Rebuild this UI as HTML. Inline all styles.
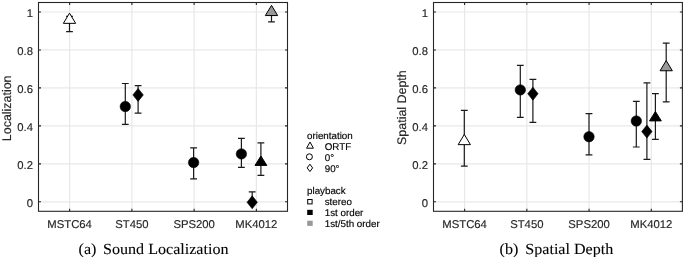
<!DOCTYPE html>
<html><head><meta charset="utf-8"><style>
html,body{margin:0;padding:0;background:#fff;width:685px;height:257px;overflow:hidden}
svg{display:block;will-change:transform}
</style></head><body>
<svg width="685" height="257" viewBox="0 0 685 257">
<style>text{text-rendering:geometricPrecision;font-family:"Liberation Sans",sans-serif;fill:#262626;stroke:#262626;stroke-width:0.15px}.tk{font-size:11.3px}.yl{font-size:12.45px}.lg{font-size:9.8px;fill:#000;stroke:#000}.cap{font-family:"Liberation Serif",serif;font-size:15.4px;fill:#000;stroke:#000;stroke-width:0.1px}</style>
<line x1="38.5" y1="201.81" x2="287.5" y2="201.81" stroke="#e8e8e8" stroke-width="1.2"/>
<line x1="38.5" y1="163.85" x2="287.5" y2="163.85" stroke="#e8e8e8" stroke-width="1.2"/>
<line x1="38.5" y1="125.88" x2="287.5" y2="125.88" stroke="#e8e8e8" stroke-width="1.2"/>
<line x1="38.5" y1="87.92" x2="287.5" y2="87.92" stroke="#e8e8e8" stroke-width="1.2"/>
<line x1="38.5" y1="49.95" x2="287.5" y2="49.95" stroke="#e8e8e8" stroke-width="1.2"/>
<line x1="38.5" y1="11.99" x2="287.5" y2="11.99" stroke="#e8e8e8" stroke-width="1.2"/>
<line x1="69.62" y1="2.5" x2="69.62" y2="211.3" stroke="#e8e8e8" stroke-width="1.2"/>
<line x1="131.88" y1="2.5" x2="131.88" y2="211.3" stroke="#e8e8e8" stroke-width="1.2"/>
<line x1="194.12" y1="2.5" x2="194.12" y2="211.3" stroke="#e8e8e8" stroke-width="1.2"/>
<line x1="256.38" y1="2.5" x2="256.38" y2="211.3" stroke="#e8e8e8" stroke-width="1.2"/>
<line x1="433.5" y1="201.81" x2="682.4" y2="201.81" stroke="#e8e8e8" stroke-width="1.2"/>
<line x1="433.5" y1="163.85" x2="682.4" y2="163.85" stroke="#e8e8e8" stroke-width="1.2"/>
<line x1="433.5" y1="125.88" x2="682.4" y2="125.88" stroke="#e8e8e8" stroke-width="1.2"/>
<line x1="433.5" y1="87.92" x2="682.4" y2="87.92" stroke="#e8e8e8" stroke-width="1.2"/>
<line x1="433.5" y1="49.95" x2="682.4" y2="49.95" stroke="#e8e8e8" stroke-width="1.2"/>
<line x1="433.5" y1="11.99" x2="682.4" y2="11.99" stroke="#e8e8e8" stroke-width="1.2"/>
<line x1="464.61" y1="2.5" x2="464.61" y2="211.3" stroke="#e8e8e8" stroke-width="1.2"/>
<line x1="526.84" y1="2.5" x2="526.84" y2="211.3" stroke="#e8e8e8" stroke-width="1.2"/>
<line x1="589.06" y1="2.5" x2="589.06" y2="211.3" stroke="#e8e8e8" stroke-width="1.2"/>
<line x1="651.29" y1="2.5" x2="651.29" y2="211.3" stroke="#e8e8e8" stroke-width="1.2"/>
<path d="M69.50 16.30V31.70M66.10 16.30H72.90M66.10 31.70H72.90" stroke="#1a1a1a" stroke-width="1.2" fill="none"/>
<path d="M69.50 13.15L75.65 23.35L63.35 23.35Z" fill="#ffffff" stroke="#000" stroke-width="1.0" stroke-linejoin="miter"/>
<path d="M125.30 83.50V124.30M121.90 83.50H128.70M121.90 124.30H128.70" stroke="#1a1a1a" stroke-width="1.2" fill="none"/>
<circle cx="125.30" cy="106.50" r="5.25" fill="#000000" stroke="#000" stroke-width="0.5"/>
<path d="M138.10 85.60V113.20M134.70 85.60H141.50M134.70 113.20H141.50" stroke="#1a1a1a" stroke-width="1.2" fill="none"/>
<path d="M138.10 88.40L143.30 94.90L138.10 101.40L132.90 94.90Z" fill="#000000" stroke="#000" stroke-width="0.6"/>
<path d="M193.60 147.90V178.90M190.20 147.90H197.00M190.20 178.90H197.00" stroke="#1a1a1a" stroke-width="1.2" fill="none"/>
<circle cx="193.60" cy="162.50" r="5.25" fill="#000000" stroke="#000" stroke-width="0.5"/>
<path d="M241.40 138.40V167.40M238.00 138.40H244.80M238.00 167.40H244.80" stroke="#1a1a1a" stroke-width="1.2" fill="none"/>
<circle cx="241.40" cy="153.90" r="5.25" fill="#000000" stroke="#000" stroke-width="0.5"/>
<path d="M252.20 191.80V202.30M248.80 191.80H255.60" stroke="#1a1a1a" stroke-width="1.2" fill="none"/>
<path d="M252.20 195.80L257.40 202.30L252.20 208.80L247.00 202.30Z" fill="#000000" stroke="#000" stroke-width="0.6"/>
<path d="M260.90 142.80V175.30M257.50 142.80H264.30M257.50 175.30H264.30" stroke="#1a1a1a" stroke-width="1.2" fill="none"/>
<path d="M260.90 156.00L266.80 165.40L255.00 165.40Z" fill="#000000" stroke="#000" stroke-width="1.0" stroke-linejoin="miter"/>
<path d="M271.50 10.00V21.80M268.10 21.80H274.90" stroke="#1a1a1a" stroke-width="1.2" fill="none"/>
<path d="M271.50 5.35L277.65 15.55L265.35 15.55Z" fill="#999999" stroke="#000" stroke-width="1.0" stroke-linejoin="miter"/>
<path d="M464.30 110.30V166.10M460.90 110.30H467.70M460.90 166.10H467.70" stroke="#1a1a1a" stroke-width="1.2" fill="none"/>
<path d="M464.30 134.45L470.45 144.65L458.15 144.65Z" fill="#ffffff" stroke="#000" stroke-width="1.0" stroke-linejoin="miter"/>
<path d="M520.30 65.30V117.40M516.90 65.30H523.70M516.90 117.40H523.70" stroke="#1a1a1a" stroke-width="1.2" fill="none"/>
<circle cx="520.30" cy="89.90" r="5.25" fill="#000000" stroke="#000" stroke-width="0.5"/>
<path d="M532.90 79.30V122.40M529.50 79.30H536.30M529.50 122.40H536.30" stroke="#1a1a1a" stroke-width="1.2" fill="none"/>
<path d="M532.90 87.20L538.10 93.70L532.90 100.20L527.70 93.70Z" fill="#000000" stroke="#000" stroke-width="0.6"/>
<path d="M589.00 113.60V154.90M585.60 113.60H592.40M585.60 154.90H592.40" stroke="#1a1a1a" stroke-width="1.2" fill="none"/>
<circle cx="589.00" cy="136.70" r="5.25" fill="#000000" stroke="#000" stroke-width="0.5"/>
<path d="M636.30 101.40V147.00M632.90 101.40H639.70M632.90 147.00H639.70" stroke="#1a1a1a" stroke-width="1.2" fill="none"/>
<circle cx="636.30" cy="121.00" r="5.25" fill="#000000" stroke="#000" stroke-width="0.5"/>
<path d="M646.90 82.90V159.30M643.50 82.90H650.30M643.50 159.30H650.30" stroke="#1a1a1a" stroke-width="1.2" fill="none"/>
<path d="M646.90 125.10L652.10 131.60L646.90 138.10L641.70 131.60Z" fill="#000000" stroke="#000" stroke-width="0.6"/>
<path d="M655.40 93.60V139.30M652.00 93.60H658.80M652.00 139.30H658.80" stroke="#1a1a1a" stroke-width="1.2" fill="none"/>
<path d="M655.40 111.50L661.30 120.90L649.50 120.90Z" fill="#000000" stroke="#000" stroke-width="1.0" stroke-linejoin="miter"/>
<path d="M666.20 43.20V101.80M662.80 43.20H669.60M662.80 101.80H669.60" stroke="#1a1a1a" stroke-width="1.2" fill="none"/>
<path d="M666.20 60.55L672.35 70.75L660.05 70.75Z" fill="#999999" stroke="#000" stroke-width="1.0" stroke-linejoin="miter"/>
<rect x="38.5" y="2.5" width="249.00" height="208.80" fill="none" stroke="#262626" stroke-width="1.1"/>
<path d="M38.5 201.81h2.5M287.5 201.81h-2.5" stroke="#262626" stroke-width="1.1"/>
<path d="M38.5 163.85h2.5M287.5 163.85h-2.5" stroke="#262626" stroke-width="1.1"/>
<path d="M38.5 125.88h2.5M287.5 125.88h-2.5" stroke="#262626" stroke-width="1.1"/>
<path d="M38.5 87.92h2.5M287.5 87.92h-2.5" stroke="#262626" stroke-width="1.1"/>
<path d="M38.5 49.95h2.5M287.5 49.95h-2.5" stroke="#262626" stroke-width="1.1"/>
<path d="M38.5 11.99h2.5M287.5 11.99h-2.5" stroke="#262626" stroke-width="1.1"/>
<path d="M69.62 2.5v2.5M69.62 211.3v-2.5" stroke="#262626" stroke-width="1.1"/>
<path d="M131.88 2.5v2.5M131.88 211.3v-2.5" stroke="#262626" stroke-width="1.1"/>
<path d="M194.12 2.5v2.5M194.12 211.3v-2.5" stroke="#262626" stroke-width="1.1"/>
<path d="M256.38 2.5v2.5M256.38 211.3v-2.5" stroke="#262626" stroke-width="1.1"/>
<text x="33.00" y="207.01" text-anchor="end" class="tk">0</text>
<text x="33.00" y="169.05" text-anchor="end" class="tk">0.2</text>
<text x="33.00" y="131.08" text-anchor="end" class="tk">0.4</text>
<text x="33.00" y="93.12" text-anchor="end" class="tk">0.6</text>
<text x="33.00" y="55.15" text-anchor="end" class="tk">0.8</text>
<text x="33.00" y="17.19" text-anchor="end" class="tk">1</text>
<text x="69.62" y="228" text-anchor="middle" class="tk">MSTC64</text>
<text x="131.88" y="228" text-anchor="middle" class="tk">ST450</text>
<text x="194.12" y="228" text-anchor="middle" class="tk">SPS200</text>
<text x="256.38" y="228" text-anchor="middle" class="tk">MK4012</text>
<rect x="433.5" y="2.5" width="248.90" height="208.80" fill="none" stroke="#262626" stroke-width="1.1"/>
<path d="M433.5 201.81h2.5M682.4 201.81h-2.5" stroke="#262626" stroke-width="1.1"/>
<path d="M433.5 163.85h2.5M682.4 163.85h-2.5" stroke="#262626" stroke-width="1.1"/>
<path d="M433.5 125.88h2.5M682.4 125.88h-2.5" stroke="#262626" stroke-width="1.1"/>
<path d="M433.5 87.92h2.5M682.4 87.92h-2.5" stroke="#262626" stroke-width="1.1"/>
<path d="M433.5 49.95h2.5M682.4 49.95h-2.5" stroke="#262626" stroke-width="1.1"/>
<path d="M433.5 11.99h2.5M682.4 11.99h-2.5" stroke="#262626" stroke-width="1.1"/>
<path d="M464.61 2.5v2.5M464.61 211.3v-2.5" stroke="#262626" stroke-width="1.1"/>
<path d="M526.84 2.5v2.5M526.84 211.3v-2.5" stroke="#262626" stroke-width="1.1"/>
<path d="M589.06 2.5v2.5M589.06 211.3v-2.5" stroke="#262626" stroke-width="1.1"/>
<path d="M651.29 2.5v2.5M651.29 211.3v-2.5" stroke="#262626" stroke-width="1.1"/>
<text x="428.00" y="207.01" text-anchor="end" class="tk">0</text>
<text x="428.00" y="169.05" text-anchor="end" class="tk">0.2</text>
<text x="428.00" y="131.08" text-anchor="end" class="tk">0.4</text>
<text x="428.00" y="93.12" text-anchor="end" class="tk">0.6</text>
<text x="428.00" y="55.15" text-anchor="end" class="tk">0.8</text>
<text x="428.00" y="17.19" text-anchor="end" class="tk">1</text>
<text x="464.61" y="228" text-anchor="middle" class="tk">MSTC64</text>
<text x="526.84" y="228" text-anchor="middle" class="tk">ST450</text>
<text x="589.06" y="228" text-anchor="middle" class="tk">SPS200</text>
<text x="651.29" y="228" text-anchor="middle" class="tk">MK4012</text>
<text transform="translate(10.6 108.3) rotate(-90)" text-anchor="middle" class="yl">Localization</text>
<text transform="translate(405.6 107.6) rotate(-90)" text-anchor="middle" class="yl">Spatial Depth</text>
<text x="307" y="139.0" class="lg">orientation</text>
<path d="M310 142L313.4 148.2L306.6 148.2Z" fill="#fff" stroke="#000" stroke-width="1"/>
<text x="324.7" y="150.1" class="lg">ORTF</text>
<circle cx="309.4" cy="156.8" r="3" fill="#fff" stroke="#000" stroke-width="1"/>
<text x="324.7" y="160.9" class="lg">0°</text>
<path d="M309.9 164.2L312.6 167.9L309.9 171.6L307.2 167.9Z" fill="#fff" stroke="#000" stroke-width="1"/>
<text x="324.7" y="171.7" class="lg">90°</text>
<text x="307" y="194.1" class="lg">playback</text>
<rect x="307.7" y="199.5" width="4.4" height="4.4" fill="#fff" stroke="#000" stroke-width="1"/>
<text x="324.7" y="205.4" class="lg">stereo</text>
<rect x="307.2" y="209.8" width="5.5" height="5.2" fill="#000"/>
<text x="324.7" y="216.0" class="lg">1st order</text>
<rect x="307.2" y="220.7" width="5.5" height="5.2" fill="#999"/>
<text x="324.7" y="227.2" class="lg">1st/5th order</text>
<text transform="translate(78.6 253.6) scale(1.045 1)" class="cap">(a)</text>
<text transform="translate(103 253.6) scale(1.045 1)" class="cap">Sound Localization</text>
<text transform="translate(499.6 253.6) scale(1.045 1)" class="cap">(b)</text>
<text transform="translate(525.3 253.6) scale(1.045 1)" class="cap">Spatial Depth</text>
</svg>
</body></html>
